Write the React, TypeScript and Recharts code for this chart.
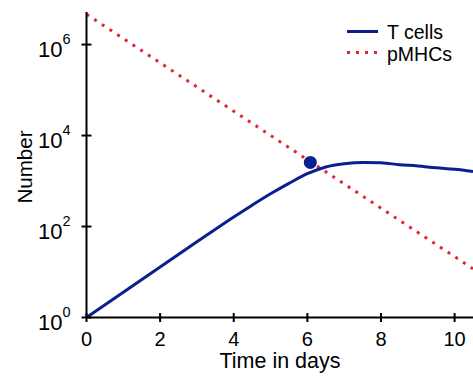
import React from 'react';
import { LineChart, Line, XAxis, YAxis, ReferenceDot, Legend, Label } from 'recharts';

const tDays = [0, 1, 2, 3, 4, 4.5, 5, 5.5, 6, 6.5, 7, 7.5, 8, 8.5, 9, 9.5, 10, 10.5];
const tCells = [1, 3.6, 12.9, 46, 162, 295, 525, 890, 1450, 2040, 2400, 2570, 2510, 2290, 2140, 1950, 1820, 1620];
const pDays = [0, 6.91, 10.5];
const pMHCs = [4.63e6, 966, 11.8];
const xTicks = [0, 2, 4, 6, 8, 10];
const yTicks = [1, 100, 1e4, 1e6];
const peakDay = 6.08;
const peakValue = 2570;
const seriesNames = ['T cells', 'pMHCs'];
const xLabel = 'Time in days';
const yLabel = 'Number';

const BLUE = '#0c1f8f';
const RED = '#e2262d';
const FONT = '"Liberation Sans", Arial, sans-serif';

const tData = tDays.map((t, i) => ({ t, v: tCells[i] }));
const pData = pDays.map((t, i) => ({ t, v: pMHCs[i] }));

const YTick = (props: any) => {
  const { x, y, payload } = props;
  const exp = Math.round(Math.log10(payload.value));
  return (
    <g>
      <line x1={x - 5} x2={x + 5} y1={y} y2={y} stroke="#000" strokeWidth={2} />
      <text x={x - 16} y={y + 12} textAnchor="end" fontSize={22} fontFamily={FONT} fill="#000">
        10<tspan dy={-13} fontSize={14.5}>{exp}</tspan>
      </text>
    </g>
  );
};

const XTick = (props: any) => {
  const { x, y, payload } = props;
  return (
    <g>
      <line x1={x} x2={x} y1={y - 4.5} y2={y + 4.5} stroke="#000" strokeWidth={2} />
      <text x={x} y={y + 28} textAnchor="middle" fontSize={20} fontFamily={FONT} fill="#000">
        {payload.value}
      </text>
    </g>
  );
};

const LegendBox = () => (
  <svg width={130} height={54} style={{ display: 'block' }}>
    <line x1={2} x2={33} y1={13.5} y2={13.5} stroke={BLUE} strokeWidth={3} />
    <text x={42} y={21} fontSize={19.5} fontFamily={FONT} fill="#000">{seriesNames[0]}</text>
    <line x1={2} x2={33} y1={34.5} y2={34.5} stroke={RED} strokeWidth={3} strokeDasharray="3 6" />
    <text x={42} y={43} fontSize={19.5} fontFamily={FONT} fill="#000">{seriesNames[1]}</text>
  </svg>
);

export default function App() {
  return (
    <div style={{ position: 'absolute', left: 0, top: 0, width: 473, height: 379, background: '#fff' }}>
      <LineChart width={473} height={379} margin={{ top: 12, right: 0, bottom: 0, left: 0 }}>
        <XAxis
          dataKey="t"
          type="number"
          domain={[0, 10.5]}
          ticks={xTicks}
          interval={0}
          allowDataOverflow
          height={61.5}
          tickSize={0}
          tickMargin={0}
          tick={<XTick />}
          axisLine={{ stroke: '#000', strokeWidth: 2 }}
        >
          <Label
            content={() => (
              <text x={280} y={368} textAnchor="middle" fontSize={21.5} fontFamily={FONT} fill="#000">
                {xLabel}
              </text>
            )}
          />
        </XAxis>
        <YAxis
          dataKey="v"
          type="number"
          scale="log"
          domain={[1, 5.2e6]}
          ticks={yTicks}
          interval={0}
          allowDataOverflow
          width={86.5}
          tickSize={0}
          tickMargin={0}
          tick={<YTick />}
          axisLine={{ stroke: '#000', strokeWidth: 2 }}
        >
          <Label
            content={() => (
              <text
                x={32}
                y={167}
                textAnchor="middle"
                fontSize={20.5}
                fontFamily={FONT}
                fill="#000"
                transform="rotate(-90 32 167)"
              >
                {yLabel}
              </text>
            )}
          />
        </YAxis>
        <Line
          data={pData}
          dataKey="v"
          type="linear"
          stroke={RED}
          strokeWidth={3}
          strokeDasharray="3 6.2"
          dot={false}
          activeDot={false}
          isAnimationActive={false}
          name={seriesNames[1]}
        />
        <Line
          data={tData}
          dataKey="v"
          type="monotone"
          stroke={BLUE}
          strokeWidth={3}
          dot={false}
          activeDot={false}
          isAnimationActive={false}
          name={seriesNames[0]}
        />
        <ReferenceDot x={peakDay} y={peakValue} r={6.5} fill={BLUE} stroke="none" isFront />
        <Legend
          layout="horizontal"
          verticalAlign="middle"
          align="center"
          content={() => <LegendBox />}
          wrapperStyle={{ position: 'absolute', left: 345, top: 18, width: 130, height: 54 }}
        />
      </LineChart>
    </div>
  );
}
